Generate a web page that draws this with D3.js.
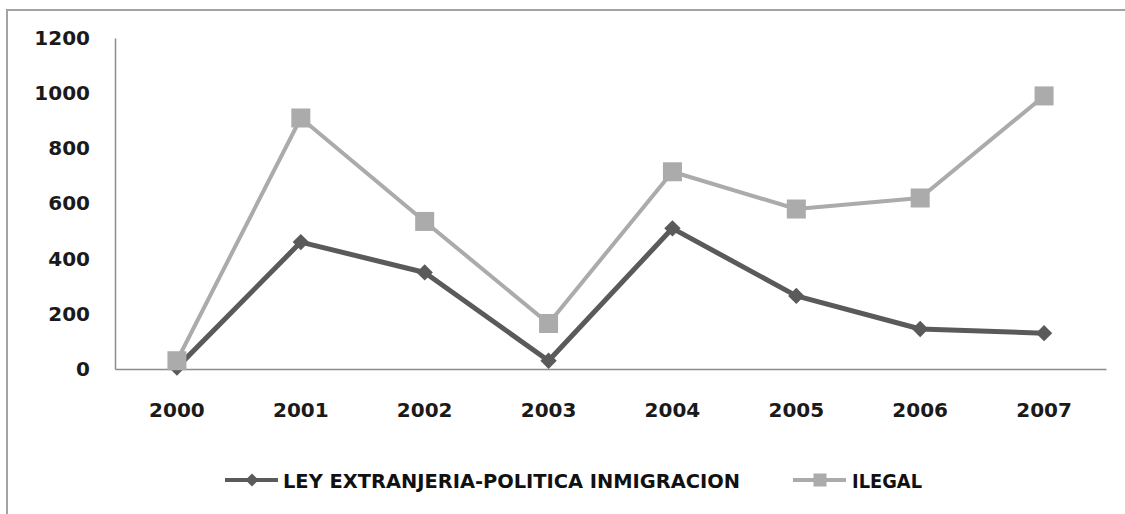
<!DOCTYPE html>
<html>
<head>
<meta charset="utf-8">
<script src="https://cdn.jsdelivr.net/npm/d3@7"></script>
<style>
  body { margin: 0; background: #fff; }
  svg { display: block; }
</style>
</head>
<body>
<script>
// chart data
const years = ["2000", "2001", "2002", "2003", "2004", "2005", "2006", "2007"];
const leyValues = [5, 460, 350, 30, 510, 265, 145, 130];
const ilegalValues = [30, 910, 535, 165, 715, 580, 620, 990];
const yTicks = [0, 200, 400, 600, 800, 1000, 1200];
const seriesNames = ["LEY EXTRANJERIA-POLITICA INMIGRACION", "ILEGAL"];

const W = 1125, H = 514;
const plot = {left: 115, right: 1106, top: 38, bottom: 369};

const darkColor = "#5a5a5a";
const lightColor = "#ababab";

const svg = d3.select("body").append("svg")
  .attr("width", W)
  .attr("height", H);

// chart frame (only top and left edges are visible in the crop)
svg.append("path")
  .attr("d", "M7," + H + "V10H" + W)
  .attr("fill", "none")
  .attr("stroke", "#a3a3a3")
  .attr("stroke-width", 2);

const x = d3.scaleBand()
  .domain(years)
  .range([plot.left, plot.right]);

const y = d3.scaleLinear()
  .domain([0, 1200])
  .range([plot.bottom, plot.top]);

// y axis
const yAxis = svg.append("g")
  .attr("transform", "translate(" + plot.left + ",0)")
  .call(d3.axisLeft(y).tickValues(yTicks).tickFormat(d3.format("d")).tickSize(0).tickPadding(25));
yAxis.select(".domain").attr("stroke", "#8c8c8c").attr("stroke-width", 1.5);
yAxis.selectAll("text")
  .attr("font-family", "DejaVu Sans")
  .attr("font-weight", "bold")
  .attr("font-size", 20)
  .attr("fill", "#1a1a1a");

// x axis
const xAxis = svg.append("g")
  .attr("transform", "translate(0," + plot.bottom + ")")
  .call(d3.axisBottom(x).tickSize(0).tickSizeOuter(0).tickPadding(34));
xAxis.select(".domain").attr("stroke", "#8c8c8c").attr("stroke-width", 1.5);
xAxis.selectAll("text")
  .attr("font-family", "DejaVu Sans")
  .attr("font-weight", "bold")
  .attr("font-size", 20)
  .attr("fill", "#1a1a1a");

const cx = d => x(d) + x.bandwidth() / 2;

const line = d3.line()
  .x((d, i) => cx(years[i]))
  .y(d => y(d));

// series 1: dark line with diamonds
svg.append("path")
  .datum(leyValues)
  .attr("d", line)
  .attr("fill", "none")
  .attr("stroke", darkColor)
  .attr("stroke-width", 5)
  .attr("stroke-linejoin", "round");

const diamond = d3.symbol().type(d3.symbolDiamond2).size(170);

svg.append("g").selectAll("path")
  .data(leyValues)
  .join("path")
  .attr("d", diamond)
  .attr("transform", (d, i) => "translate(" + cx(years[i]) + "," + y(d) + ")")
  .attr("fill", darkColor);

// series 2: light line with squares
svg.append("path")
  .datum(ilegalValues)
  .attr("d", line)
  .attr("fill", "none")
  .attr("stroke", lightColor)
  .attr("stroke-width", 4)
  .attr("stroke-linejoin", "round");

const sq = 19;
svg.append("g").selectAll("rect")
  .data(ilegalValues)
  .join("rect")
  .attr("x", (d, i) => cx(years[i]) - sq / 2)
  .attr("y", d => y(d) - sq / 2)
  .attr("width", sq)
  .attr("height", sq)
  .attr("fill", lightColor);

// legend
const legendY = 480;
const legend = svg.append("g");

legend.append("line")
  .attr("x1", 225).attr("x2", 278)
  .attr("y1", legendY).attr("y2", legendY)
  .attr("stroke", darkColor).attr("stroke-width", 4);
legend.append("path")
  .attr("d", d3.symbol().type(d3.symbolDiamond2).size(110))
  .attr("transform", "translate(252," + legendY + ")")
  .attr("fill", darkColor);
legend.append("text")
  .attr("x", 283).attr("y", 488)
  .attr("font-family", "DejaVu Sans Condensed")
  .attr("font-weight", "bold")
  .attr("font-size", 20)
  .attr("textLength", 457)
  .attr("lengthAdjust", "spacingAndGlyphs")
  .attr("fill", "#111")
  .text(seriesNames[0]);

legend.append("line")
  .attr("x1", 793).attr("x2", 846)
  .attr("y1", legendY).attr("y2", legendY)
  .attr("stroke", lightColor).attr("stroke-width", 4);
legend.append("rect")
  .attr("x", 820 - 6.5).attr("y", legendY - 6.5)
  .attr("width", 13).attr("height", 13)
  .attr("fill", lightColor);
legend.append("text")
  .attr("x", 852).attr("y", 488)
  .attr("font-family", "DejaVu Sans Condensed")
  .attr("font-weight", "bold")
  .attr("font-size", 20)
  .attr("textLength", 70)
  .attr("lengthAdjust", "spacingAndGlyphs")
  .attr("fill", "#111")
  .text(seriesNames[1]);
</script>
</body>
</html>
